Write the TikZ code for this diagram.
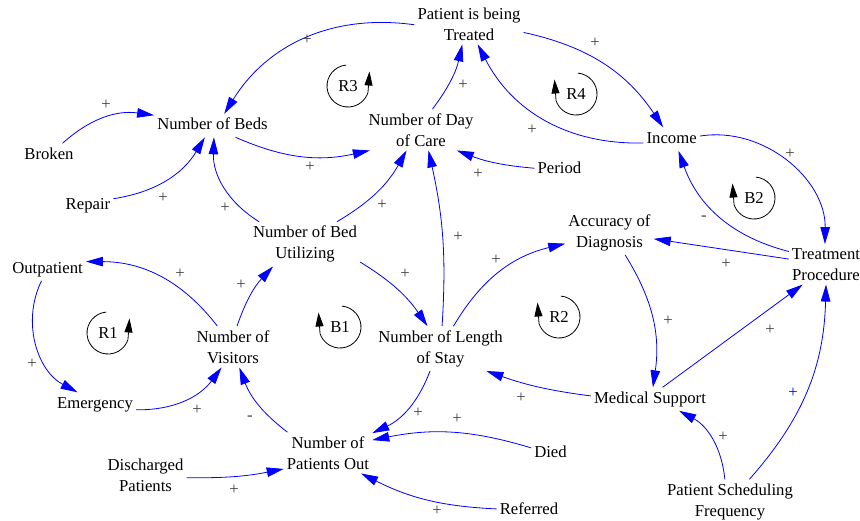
\documentclass[tikz,border=0pt]{standalone}
\usepackage{fontspec}
\setmainfont{Liberation Serif}
\usetikzlibrary{arrows.meta}
\definecolor{linkblue}{RGB}{0,0,255}
\definecolor{signgrey}{RGB}{64,64,64}
\newcommand{\cldloopright}[4]{%
  \node[looplab] (#1) at (#2,#3) {#4};
  \draw[loopc] (#1.center) ++(95:21) arc[start angle=95,end angle=342,radius=21];
  \draw[looparr] (#1.center) ++(342:21) -- ++(1.5,21);
}
\newcommand{\cldloopleft}[4]{%
  \node[looplab] (#1) at (#2,#3) {#4};
  \draw[loopc] (#1.center) ++(85:21) arc[start angle=85,end angle=-162,radius=21];
  \draw[looparr] (#1.center) ++(198:21) -- ++(-1.5,21);
}
\begin{document}
\begin{tikzpicture}[x=1pt,y=1pt,
  font=\fontsize{16.7}{21}\selectfont,
  var/.style={inner xsep=3pt, inner ysep=4pt, text height=11.5pt, text depth=3.6pt, anchor=base},
  var2/.style={inner xsep=3pt, inner ysep=4pt, align=center},
  link/.style={draw=linkblue, line width=0.8pt, -{Triangle[length=17pt,width=9.5pt]}},
  sgn/.style={text=signgrey, inner sep=0pt},
  looplab/.style={inner sep=1pt},
  loopc/.style={line width=0.8pt},
  looparr/.style={line width=0.8pt, -{Triangle[length=14pt,width=8pt]}}]
\useasboundingbox (0,0) rectangle (860,-520);
\fill[white] (0,0) rectangle (860,-520);

% variables
\node[var2] (patient) at (469,-23.8) {Patient is being\\Treated};
\node[var] (beds) at (212.5,-129.5) {Number of Beds};
\node[var2] (daycare) at (421,-129.8) {Number of Day\\of Care};
\node[var] (income) at (671.7,-143) {Income};
\node[var] (period) at (559.5,-173.5) {Period};
\node[var] (broken) at (49,-159) {Broken};
\node[var] (repair) at (88,-209) {Repair};
\node[var2] (bedutil) at (305,-244.1) {Number of Bed\\Utilizing};
\node[var2] (accuracy) at (609.5,-232.6) {Accuracy of\\Diagnosis};
\node[var2] (treatment) at (826,-264.3) {Treatment\\Procedure};
\node[var] (outpatient) at (47.5,-273) {Outpatient};
\node[var2] (visitors) at (233,-346.8) {Number of\\Visitors};
\node[var] (emergency) at (95,-408) {Emergency};
\node[var2] (lengthstay) at (440.5,-348.6) {Number of Length\\of Stay};
\node[var] (medsupport) at (650,-403) {Medical Support};
\node[var2] (patout) at (328,-452.8) {Number of\\Patients Out};
\node[var2] (discharged) at (145.5,-474.8) {Discharged\\Patients};
\node[var] (died) at (550.5,-457) {Died};
\node[var] (referred) at (529,-514) {Referred};
\node[var2] (psf) at (730,-501.6) {Patient Scheduling\\Frequency};

% links
\draw[link] (patient.181) to[bend right=33] (beds.45);
\draw[link] (broken.41) to[bend left=25] (beds.170);
\draw[link] (repair.14) to[bend right=25] (beds.-123);
\draw[link] (bedutil.154) to[bend left=30] (beds.-83);
\draw[link] (beds.-27) to[bend right=18] (daycare.-158);
\draw[link] (bedutil.35) to[bend right=15] (daycare.-125);
\draw[link] (daycare.61) to[bend right=12] (patient.-108);
\draw[link] (income.188) to[bend left=32] (patient.-67);
\draw[link] (patient.-9) to[bend left=22] (income.126);
\draw[link] (period.177) to[bend left=8] (daycare.-30);
\draw[link] (income.6) to[bend left=50] (treatment.93);
\draw[link] (treatment.161) to[bend left=28] (income.-60);
\draw[link] (treatment.172) -- (accuracy.-8);
\draw[link] (lengthstay.60) to[bend left=23] (accuracy.194);
\draw[link] (accuracy.-55) to[bend left=20] (medsupport.76);
\draw[link] (medsupport.43) -- (treatment.-139);
\draw[link] (psf.49) to[bend right=20] (treatment.-90);
\draw[link] (psf.103) to[bend right=28] (medsupport.-22);
\draw[link] (medsupport.177) to[bend left=6] (lengthstay.-26);
\draw[link] (lengthstay.86) to[bend right=8] (daycare.-70);
\draw[link] (bedutil.-18) to[bend left=12] (lengthstay.120);
\draw[link] (visitors.79) to[bend left=12] (bedutil.-145);
\draw[link] (visitors.127) to[bend right=26] (outpatient.11);
\draw[link] (outpatient.-117) to[bend right=44] (emergency.146);
\draw[link] (emergency.-8) to[bend right=27] (visitors.-119);
\draw[link] (patout.153) to[bend left=16] (visitors.-73);
\draw[link] (lengthstay.-115) to[bend left=22] (patout.24);
\draw[link] (died.165) to[bend right=14] (patout.16);
\draw[link] (referred.178) to[bend left=12] (patout.-32);
\draw[link] (discharged.-4) to[bend right=6] (patout.-160);

% polarity signs
\node[sgn] (s1) at (307,-40) {+};
\node[sgn] (s2) at (106,-105) {+};
\node[sgn] (s3) at (163,-198) {+};
\node[sgn] (s4) at (225,-208) {+};
\node[sgn] (s5) at (310,-167) {+};
\node[sgn] (s6) at (382,-205) {+};
\node[sgn] (s7) at (463,-85) {+};
\node[sgn] (s8) at (532,-130) {+};
\node[sgn] (s9) at (595,-43) {+};
\node[sgn] (s10) at (478,-174) {+};
\node[sgn] (s11) at (790,-154) {+};
\node[sgn] (s12) at (704,-218) {-};
\node[sgn] (s13) at (726,-264) {+};
\node[sgn] (s14) at (496,-260) {+};
\node[sgn] (s15) at (668,-321) {+};
\node[sgn] (s16) at (770,-330) {+};
\node[sgn, text=linkblue] (s17) at (793,-393) {+};
\node[sgn] (s18) at (723,-437) {+};
\node[sgn] (s19) at (521,-398) {+};
\node[sgn] (s20) at (458,-237) {+};
\node[sgn] (s21) at (405,-274) {+};
\node[sgn] (s22) at (241,-285) {+};
\node[sgn] (s23) at (180,-274) {+};
\node[sgn] (s24) at (32,-364) {+};
\node[sgn] (s25) at (197,-410) {+};
\node[sgn] (s26) at (250,-418) {-};
\node[sgn] (s27) at (418,-413) {+};
\node[sgn] (s28) at (457,-419) {+};
\node[sgn] (s29) at (437,-511) {+};
\node[sgn] (s30) at (234,-490) {+};

% loop markers
\cldloopright{r3}{348}{-86}{R3}
\cldloopright{r1}{108}{-333}{R1}
\cldloopleft{r4}{576}{-94}{R4}
\cldloopleft{b2}{754}{-198}{B2}
\cldloopleft{b1}{340}{-327}{B1}
\cldloopleft{r2}{559}{-317}{R2}
\end{tikzpicture}
\end{document}
